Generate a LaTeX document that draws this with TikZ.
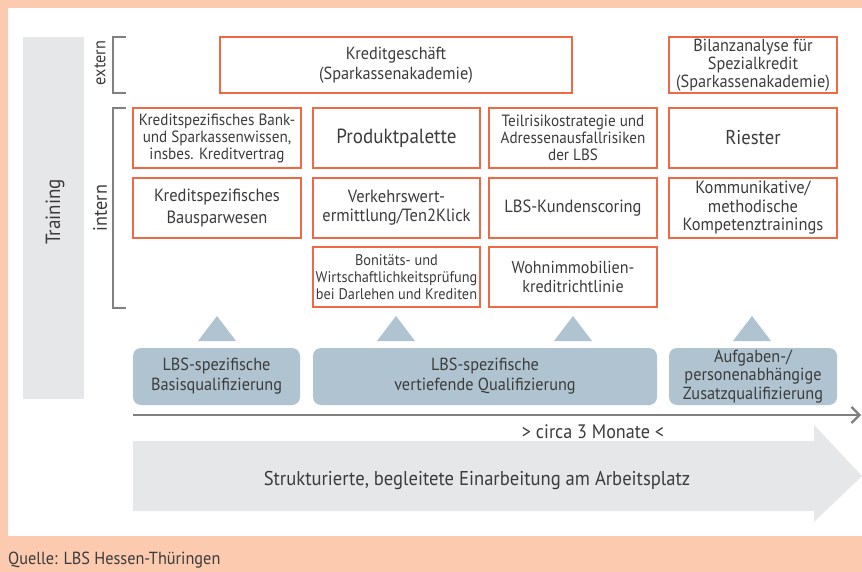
\documentclass[tikz,border=0pt]{standalone}
\usepackage{fontspec}
\setmainfont{PT Sans}[FakeStretch=0.93]
\usetikzlibrary{arrows.meta}
\definecolor{peach}{HTML}{FCCAAE}
\definecolor{borange}{HTML}{EF6A44}
\definecolor{bblue}{HTML}{AFC4D0}
\definecolor{lgray}{HTML}{E6E7E9}
\definecolor{dgray}{HTML}{808080}
\definecolor{txt}{HTML}{3C3C3C}
\begin{document}
\begin{tikzpicture}[x=1pt,y=-1pt,
  every node/.style={text=txt,font=\fontsize{17.5}{20}\selectfont},
  obox/.style={draw=borange,line width=1.4pt,fill=white,align=center,inner sep=1pt,outer sep=0pt,minimum width=168pt,minimum height=60pt},
  bbox/.style={fill=bblue,rounded corners=8pt,align=center,inner sep=1pt,minimum width=168pt,minimum height=57pt},
  tri/.style={fill=bblue},
  brk/.style={draw=dgray,line width=1.8pt}]
\useasboundingbox (0,0) rectangle (862,572);
\fill[peach] (0,0) rectangle (862,572);
\fill[white] (8,8) rectangle (862,536);
% Training bar
\fill[lgray] (23,37) rectangle (84,399);
\node[rotate=90,font=\fontsize{20.5}{24}\selectfont] (training) at (55,212) {Training};
% brackets
\draw[brk] (126,37) -- (113,37) -- (113,93) -- (126,93);
\draw[brk] (126,108) -- (113,108) -- (113,308) -- (126,308);
\node[rotate=90,font=\fontsize{17.5}{18}\selectfont] (extern) at (100,63) {extern};
\node[rotate=90,font=\fontsize{19.5}{20}\selectfont] (intern) at (100,208) {intern};
% extern boxes
\node[obox,minimum width=352pt,minimum height=56pt,font=\fontsize{17.5}{20}\selectfont] (kg) at (396,65) {Kreditgeschäft\\(Sparkassenakademie)};
\node[obox,minimum height=56pt,font=\fontsize{17.5}{18}\selectfont] (bil) at (753,65) {Bilanzanalyse für\\Spezialkredit\\(Sparkassenakademie)};
% row 1
\node[obox,font=\fontsize{16.3}{17}\selectfont] (a1) at (217,138) {Kreditspezifisches Bank-\\und Sparkassenwissen,\\insbes. Kreditvertrag};
\node[obox,minimum width=167pt,font=\fontsize{20.5}{22}\selectfont] (b1) at (396.5,138) {Produktpalette};
\node[obox,font=\fontsize{16.3}{17}\selectfont] (c1) at (573,138) {Teilrisikostrategie und\\Adressenausfallrisiken\\der LBS};
\node[obox,font=\fontsize{20}{22}\selectfont] (d1) at (753,138) {Riester};
% row 2
\node[obox,font=\fontsize{17.7}{21.5}\selectfont] (a2) at (217,208) {Kreditspezifisches\\Bausparwesen};
\node[obox,minimum width=167pt,font=\fontsize{17.7}{19}\selectfont] (b2) at (396.5,208) {Verkehrswert-\\ermittlung/Ten2Klick};
\node[obox,font=\fontsize{17.7}{20}\selectfont] (c2) at (573,208) {LBS-Kundenscoring};
\node[obox,font=\fontsize{17.7}{18.5}\selectfont] (d2) at (753,208) {Kommunikative/\\methodische\\Kompetenztrainings};
% row 3
\node[obox,minimum width=167pt,font=\fontsize{15.4}{17}\selectfont] (b3) at (396.5,277) {Bonitäts- und\\Wirtschaftlichkeitsprüfung\\bei Darlehen und Krediten};
\node[obox,font=\fontsize{17.3}{18.5}\selectfont] (c3) at (573,277) {Wohnimmobilien-\\kreditrichtlinie};
% triangles
\foreach \cx in {217,396,573,752}
  \fill[tri] (\cx-19,341) -- (\cx+19,341) -- (\cx,316) -- cycle;
% blue boxes
\node[bbox,minimum width=167pt,font=\fontsize{17.5}{20}\selectfont] (q1) at (216.5,376.5) {LBS-spezifische\\Basisqualifizierung};
\node[bbox,minimum width=344pt,font=\fontsize{17.5}{20}\selectfont] (q2) at (485,376.5) {LBS-spezifische\\vertiefende Qualifizierung};
\node[bbox,font=\fontsize{17.5}{18.3}\selectfont] (q3) at (753,376.5) {Aufgaben-/\\personenabhängige\\Zusatzqualifizierung};
% time line
\coordinate (ts) at (133,415);
\coordinate (te) at (861,415);
\draw[dgray,line width=2.6pt,-{Straight Barb[length=8pt,width=16pt,line width=2.2pt]}] (ts) -- (te);
\node[font=\fontsize{19.5}{20}\selectfont] (months) at (593,432) {> circa 3 Monate <};
% big arrow
\fill[lgray] (133,441) -- (814,441) -- (814,425) -- (862,476) -- (814,522) -- (814,511) -- (133,511) -- cycle;
\node[font=\fontsize{20}{22}\selectfont] (work) at (477,480) {Strukturierte, begleitete Einarbeitung am Arbeitsplatz};
% source
\node[anchor=west,font=\fontsize{17.5}{19}\selectfont,inner sep=0pt] (src) at (8,560) {Quelle: LBS Hessen-Thüringen};
\end{tikzpicture}
\end{document}
